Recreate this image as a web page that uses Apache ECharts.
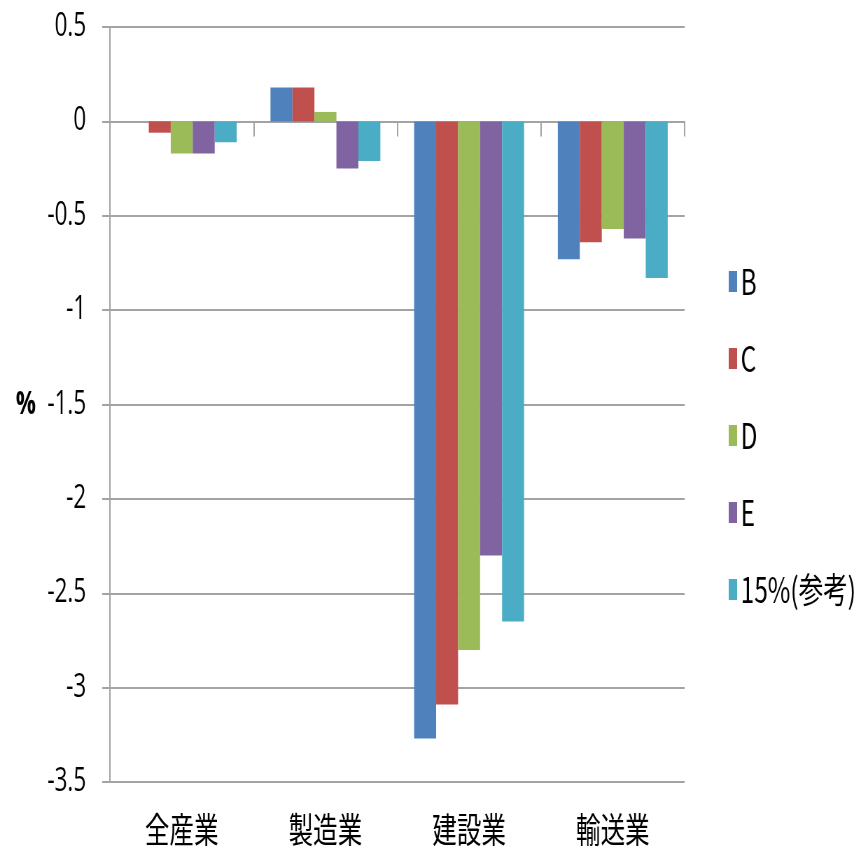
<!DOCTYPE html>
<html>
<head>
<meta charset="utf-8">
<title>業種別変化率</title>
<script src="https://cdn.jsdelivr.net/npm/echarts@6/dist/echarts.min.js"></script>
<style>
  html, body { margin: 0; padding: 0; background: #ffffff; overflow: hidden; }
  /* drawn wide, then narrowed horizontally for the condensed look */
  #chart { width: 1234px; height: 852px; transform: scaleX(0.7); transform-origin: 0 0; }
</style>
</head>
<body>
<div id="chart"></div>
<script>
// industries along the category axis
const categories = ['全産業', '製造業', '建設業', '輸送業'];

// change by case (%)
const seriesB = [0, 0.18, -3.27, -0.73];
const seriesC = [-0.06, 0.18, -3.09, -0.64];
const seriesD = [-0.17, 0.05, -2.80, -0.57];
const seriesE = [-0.17, -0.25, -2.30, -0.62];
const series15 = [-0.11, -0.21, -2.65, -0.83];

const seriesNames = ['B', 'C', 'D', 'E', '15%(参考)'];
const seriesColors = ['#4F81BD', '#C0504D', '#9BBB59', '#8064A2', '#4BACC6'];
const seriesData = [seriesB, seriesC, seriesD, seriesE, series15];

const yMin = -3.5, yMax = 0.5, yStep = 0.5;

const gridColor = '#a3a3a3';
const latinFont = '"Open Sans", "Noto Sans", sans-serif';
const cjkFont = '"Noto Sans CJK JP", "Noto Sans", sans-serif';

const chart = echarts.init(document.getElementById('chart'), null, { renderer: 'canvas' });

chart.setOption({
  animation: false,
  backgroundColor: '#ffffff',
  grid: { left: 157, right: 256, top: 27, bottom: 70, containLabel: false },
  legend: {
    orient: 'vertical',
    left: 1036,
    top: 259,
    itemWidth: 12,
    itemHeight: 21,
    itemGap: 42,
    icon: 'rect',
    data: seriesNames,
    textStyle: { fontFamily: cjkFont, fontSize: 35, color: '#000', lineHeight: 30, padding: [0, 0, 0, 0] },
    itemStyle: { borderWidth: 0 }
  },
  xAxis: [
    {
      type: 'category',
      data: categories,
      axisLine: { onZero: true, lineStyle: { color: gridColor, width: 2 } },
      axisTick: { show: true, alignWithLabel: false, length: 15, lineStyle: { color: gridColor, width: 2 } },
      axisLabel: { show: false },
      splitLine: { show: false }
    },
    {
      type: 'category',
      data: categories,
      position: 'bottom',
      axisLine: { show: false, onZero: false },
      axisTick: { show: false },
      axisLabel: { show: true, margin: 30, fontFamily: cjkFont, fontSize: 35, color: '#000' },
      splitLine: { show: false }
    }
  ],
  yAxis: {
    type: 'value',
    min: yMin,
    max: yMax,
    interval: yStep,
    axisLine: { show: true, lineStyle: { color: gridColor, width: 2 } },
    axisTick: { show: true, length: 11, lineStyle: { color: gridColor, width: 2 } },
    axisLabel: { margin: 34, fontFamily: latinFont, fontSize: 32, color: '#000' },
    splitLine: { show: true, lineStyle: { color: gridColor, width: 2 } }
  },
  graphic: [
    {
      type: 'text',
      x: 37,
      y: 405,
      style: {
        text: '%',
        fontFamily: latinFont,
        fontSize: 32,
        fontWeight: 'bold',
        fill: '#000',
        align: 'center',
        verticalAlign: 'middle'
      }
    }
  ],
  series: seriesNames.map((name, i) => ({
    name: name,
    type: 'bar',
    xAxisIndex: 0,
    data: seriesData[i],
    barGap: '0%',
    barCategoryGap: '23.5%',
    itemStyle: { color: seriesColors[i] }
  }))
});
</script>
</body>
</html>
